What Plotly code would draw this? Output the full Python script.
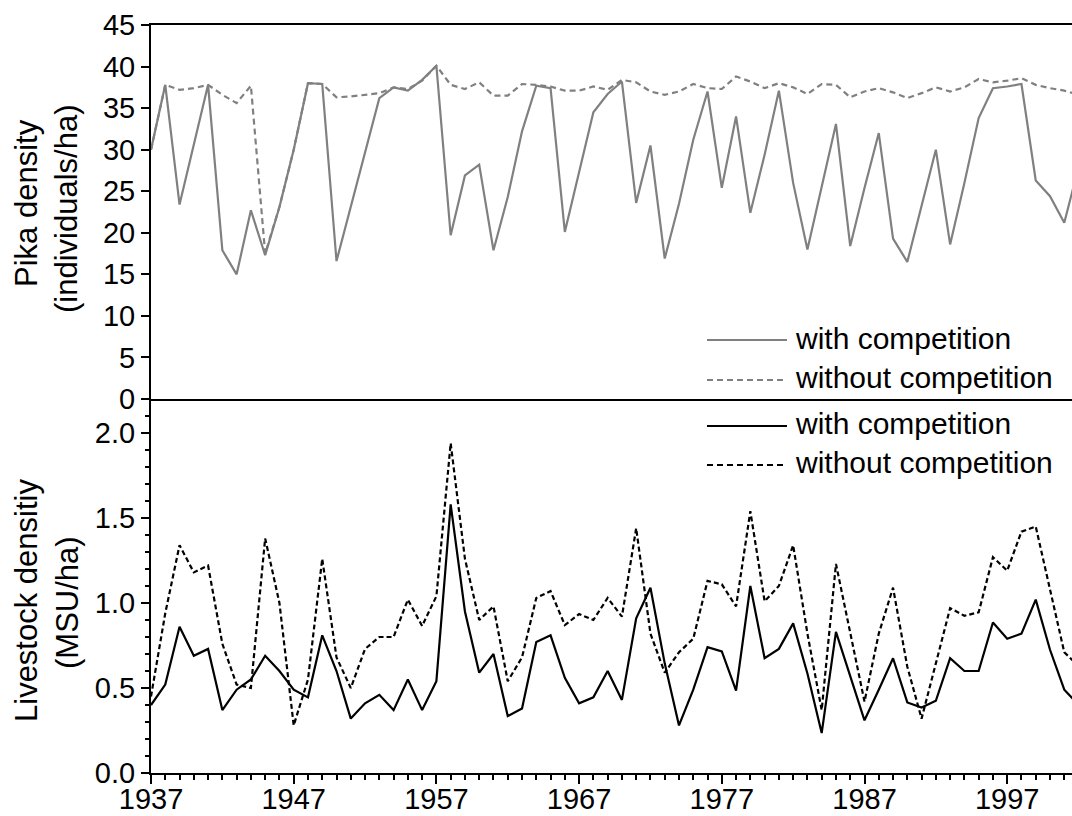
import plotly.graph_objects as go
from plotly.subplots import make_subplots

years = list(range(1937, 2003))

pika_with = [30.0, 37.8, 23.4, 30.6, 37.8, 17.9, 15.0, 22.7, 17.3, 23.1,
             30.0, 38.0, 37.9, 16.6, 23.1, 29.7, 36.2, 37.5, 37.1, 38.4,
             40.1, 19.7, 26.9, 28.2, 17.9, 24.3, 32.2, 37.7, 37.4, 20.1,
             27.2, 34.5, 36.7, 38.2, 23.6, 30.5, 16.9, 23.5, 31.2, 37.0,
             25.4, 34.0, 22.4, 29.4, 37.1, 26.0, 18.0, 25.5, 33.1, 18.4,
             25.4, 32.0, 19.3, 16.5, 23.1, 30.0, 18.6, 26.0, 33.8, 37.4,
             37.6, 37.9, 26.3, 24.4, 21.2, 27.9]

pika_without = [30.0, 37.8, 37.2, 37.4, 37.8, 36.6, 35.6, 37.7, 17.5, 23.1,
                30.0, 38.0, 37.9, 36.3, 36.4, 36.6, 36.8, 37.5, 37.3, 38.3,
                40.1, 37.8, 37.3, 38.1, 36.5, 36.5, 37.9, 37.8, 37.6, 37.1,
                37.1, 37.6, 37.2, 38.4, 38.1, 37.0, 36.6, 37.0, 37.9, 37.4,
                37.3, 38.8, 38.2, 37.4, 38.0, 37.5, 36.7, 37.9, 37.8, 36.3,
                37.0, 37.4, 36.9, 36.2, 36.8, 37.5, 37.0, 37.5, 38.5, 38.1,
                38.3, 38.6, 37.8, 37.4, 37.1, 36.6]

live_with = [0.40, 0.52, 0.86, 0.69, 0.73, 0.37, 0.49, 0.55, 0.69, 0.60,
             0.49, 0.445, 0.81, 0.60, 0.32, 0.41, 0.46, 0.37, 0.55, 0.37,
             0.54, 1.58, 0.95, 0.59, 0.70, 0.335, 0.38, 0.77, 0.81, 0.56,
             0.41, 0.445, 0.60, 0.43, 0.91, 1.09, 0.645, 0.28, 0.49, 0.74,
             0.715, 0.485, 1.10, 0.675, 0.73, 0.88, 0.585, 0.235, 0.83, 0.57,
             0.31, 0.49, 0.675, 0.415, 0.385, 0.425, 0.675, 0.60, 0.60, 0.885,
             0.79, 0.82, 1.02, 0.725, 0.49, 0.40]

live_without = [0.45, 0.94, 1.34, 1.18, 1.22, 0.76, 0.52, 0.50, 1.38, 1.00,
                0.28, 0.55, 1.26, 0.68, 0.50, 0.73, 0.80, 0.80, 1.02, 0.865,
                1.04, 1.94, 1.26, 0.90, 0.98, 0.54, 0.68, 1.03, 1.07, 0.87,
                0.935, 0.90, 1.03, 0.92, 1.44, 0.82, 0.59, 0.71, 0.79, 1.13,
                1.11, 0.98, 1.54, 1.01, 1.10, 1.34, 0.82, 0.37, 1.23, 0.82,
                0.42, 0.82, 1.09, 0.625, 0.32, 0.645, 0.97, 0.925, 0.945, 1.27,
                1.19, 1.42, 1.45, 1.08, 0.71, 0.63]

x_ticks = [1937, 1947, 1957, 1967, 1977, 1987, 1997]
pika_ticks = list(range(0, 50, 5))
live_ticks = [0.0, 0.5, 1.0, 1.5, 2.0]
legend_labels = ["with competition", "without competition"]

GRAY = "#808080"
FONT = "Liberation Sans, Arial, Helvetica, sans-serif"
W, H = 1072, 816
ML, MR, MT, MB = 151, 0, 25, 43
PW, PH = W - ML - MR, H - MT - MB
LW = 2.2


def px_x(px):
    return (px - ML) / PW


def px_y(py):
    return (H - MB - py) / PH


fig = make_subplots(rows=2, cols=1, shared_xaxes=True, vertical_spacing=0)

fig.add_trace(go.Scatter(x=years, y=pika_with, mode="lines", name=legend_labels[0],
                         line=dict(color=GRAY, width=LW), showlegend=False), row=1, col=1)
fig.add_trace(go.Scatter(x=years, y=pika_without, mode="lines", name=legend_labels[1],
                         line=dict(color=GRAY, width=LW, dash="6px,4px"), showlegend=False), row=1, col=1)
fig.add_trace(go.Scatter(x=years, y=live_with, mode="lines", name=legend_labels[0],
                         line=dict(color="black", width=LW), showlegend=False), row=2, col=1)
fig.add_trace(go.Scatter(x=years, y=live_without, mode="lines", name=legend_labels[1],
                         line=dict(color="black", width=LW, dash="5px,3px"), showlegend=False), row=2, col=1)

xr = [1937, 1937 + PW / 14.27]
fig.update_xaxes(range=xr, showline=True, linecolor="black", linewidth=2,
                 showgrid=False, zeroline=False, automargin=False)
fig.update_xaxes(row=1, col=1, mirror=True, ticks="", showticklabels=False)
fig.update_xaxes(row=2, col=1, tickmode="array", tickvals=x_ticks,
                 ticks="outside", ticklen=9, tickwidth=1.5, tickcolor="black",
                 ticklabelstandoff=-10,
                 minor=dict(dtick=1, tick0=1937, ticks="outside", ticklen=5,
                            tickwidth=1.5, tickcolor="black"),
                 tickfont=dict(size=29, color="black", family=FONT))

fig.update_yaxes(showline=True, linecolor="black", linewidth=2, showgrid=False,
                 zeroline=False, ticks="outside", ticklen=8, tickwidth=1.5,
                 tickcolor="black", tickfont=dict(size=29, color="black", family=FONT),
                 automargin=False)
fig.update_yaxes(row=1, col=1, range=[0, 45], tickmode="array", tickvals=pika_ticks)
fig.update_yaxes(row=2, col=1, range=[0, 2.2], tickmode="array", tickvals=live_ticks,
                 ticktext=[f"{v:.1f}" for v in live_ticks],
                 minor=dict(dtick=0.1, tick0=0, ticks="outside", ticklen=4,
                            tickwidth=1.5, tickcolor="black"))

annotations = []
title_lines = [
    ("Pika density", 27, 203),
    ("(individuals/ha)", 66, 209),
    ("Livestock densitiy", 26, 601),
    ("(MSU/ha)", 67, 603),
]
for txt, cx, cy in title_lines:
    annotations.append(dict(text=txt, xref="paper", yref="paper", x=px_x(cx), y=px_y(cy),
                            xanchor="center", yanchor="middle", textangle=-90,
                            showarrow=False, font=dict(size=31, color="black", family=FONT)))

legend_rows = [
    (legend_labels[0], 340, 338, GRAY, "solid"),
    (legend_labels[1], 380, 377, GRAY, "6px,4px"),
    (legend_labels[0], 426, 423, "black", "solid"),
    (legend_labels[1], 465, 462, "black", "6px,4px"),
]
shapes = []
for txt, ly, ty, col, dash in legend_rows:
    shapes.append(dict(type="line", xref="paper", yref="paper",
                       x0=px_x(707), x1=px_x(787), y0=px_y(ly), y1=px_y(ly),
                       line=dict(color=col, width=LW, dash=dash)))
    annotations.append(dict(text=txt, xref="paper", yref="paper", x=px_x(793), y=px_y(ty),
                            xanchor="left", yanchor="middle", showarrow=False,
                            font=dict(size=30, color="black", family=FONT)))

fig.update_layout(width=W, height=H, margin=dict(l=ML, r=MR, t=MT, b=MB, autoexpand=False),
                  paper_bgcolor="white", plot_bgcolor="white",
                  font=dict(family=FONT, color="black"),
                  annotations=annotations, shapes=shapes, showlegend=False)

fig.write_html("out.html", config={"displayModeBar": False},
               post_script="document.body.style.margin='0';document.body.style.overflow='hidden';")
